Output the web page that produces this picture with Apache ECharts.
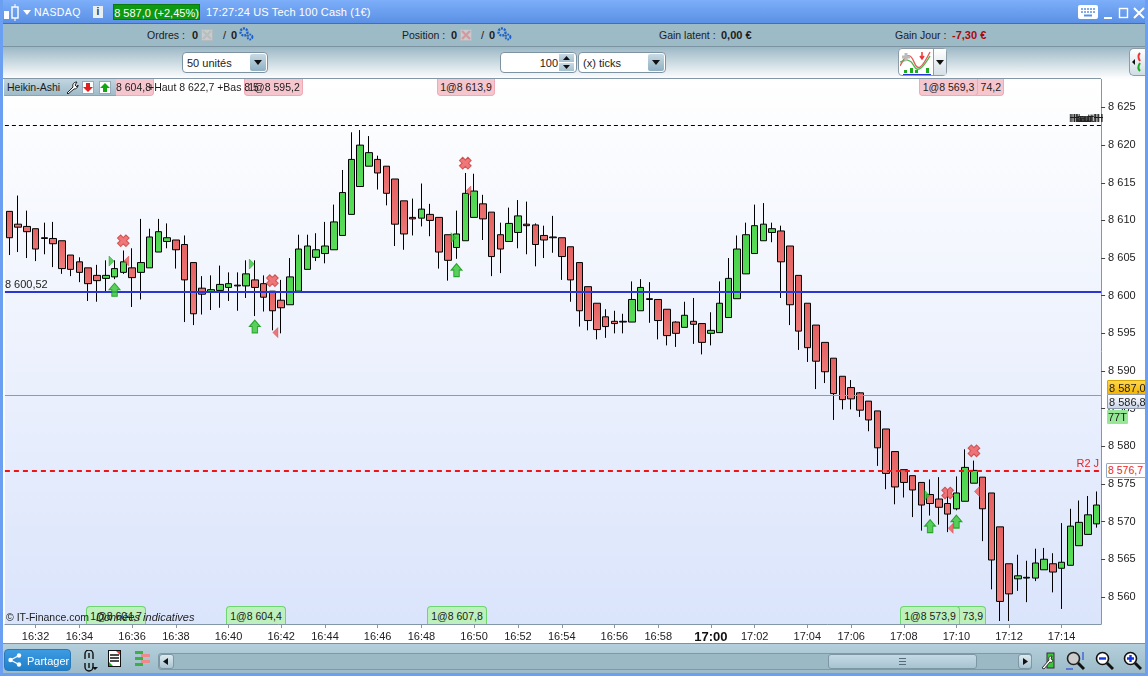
<!DOCTYPE html>
<html><head><meta charset="utf-8">
<script src="https://cdn.jsdelivr.net/npm/echarts@6/dist/echarts.min.js"></script>
<style>
html,body{margin:0;padding:0;background:#fff;overflow:hidden}
#chart{position:absolute;left:0;top:0;width:1148px;height:676px}
#ui{position:absolute;left:0;top:0;width:1148px;height:676px;pointer-events:none;font:11px "Liberation Sans",Arial,sans-serif;color:#1c1c1c}
#ui div,#ui svg{position:absolute;box-sizing:border-box;white-space:nowrap}
</style></head><body>
<div id="chart"></div><div id="ui"></div>
<script>
// Heikin-Ashi candles: [open, close, low, high]
const candles=[
[8611.2,8607.7,8605.4,8611.2],[8609.5,8609.1,8605.8,8613.3],[8609.2,8608.5,8605.0,8611.3],[8608.9,8606.2,8604.6,8608.9],[8607.7,8607.6,8605.5,8609.7],
[8607.6,8606.9,8603.8,8609.8],[8607.3,8603.6,8602.9,8607.3],[8605.4,8603.5,8602.6,8605.4],[8604.5,8603.1,8601.8,8605.1],[8603.7,8601.6,8599.3,8603.7],
[8602.7,8602.0,8599.2,8604.1],[8602.3,8602.7,8600.5,8604.7],[8602.5,8603.6,8602.2,8604.7],[8603.1,8604.5,8602.9,8606.0],[8603.7,8602.4,8598.5,8606.3],
[8603.1,8604.4,8599.5,8610.2],[8603.7,8607.8,8603.7,8608.9],[8605.8,8608.5,8605.8,8610.2],[8607.2,8607.7,8606.3,8609.6],[8607.4,8606.1,8603.6,8607.4],
[8606.8,8602.1,8596.5,8608.0],[8604.4,8597.6,8596.1,8604.4],[8601.0,8600.2,8597.5,8602.6],[8600.5,8600.8,8598.1,8602.7],[8600.7,8601.5,8598.4,8604.0],
[8601.1,8601.6,8599.3,8603.1],[8601.4,8601.3,8598.0,8603.1],[8601.3,8602.9,8599.7,8604.7],[8602.1,8601.1,8597.3,8604.7],[8601.6,8599.8,8597.9,8602.7],
[8600.6,8598.0,8595.4,8600.6],[8599.4,8598.4,8595.0,8602.1],[8598.8,8602.5,8598.8,8605.0],[8600.6,8606.2,8600.6,8608.1],[8603.5,8606.6,8603.5,8608.1],
[8605.1,8606.1,8604.6,8608.3],[8605.6,8606.6,8604.3,8609.8],[8606.1,8609.8,8606.1,8612.1],[8608.0,8613.7,8608.0,8616.7],[8610.8,8618.1,8610.8,8621.7],
[8614.5,8620.0,8614.5,8622.0],[8617.2,8619.0,8617.2,8621.2],[8618.1,8616.3,8614.1,8618.6],[8617.2,8613.6,8612.0,8617.2],[8615.5,8609.5,8606.6,8615.5],
[8612.6,8608.2,8606.1,8612.6],[8610.4,8610.2,8608.0,8612.9],[8610.3,8611.5,8609.2,8614.9],[8610.8,8610.0,8607.9,8612.2],[8610.4,8605.8,8603.6,8610.4],
[8608.1,8604.7,8602.0,8608.1],[8606.4,8608.2,8604.9,8611.3],[8607.3,8613.6,8607.3,8616.3],[8610.4,8613.9,8610.4,8616.2],[8612.2,8610.2,8607.4,8613.4],
[8611.1,8605.2,8602.6,8611.1],[8608.1,8606.2,8603.0,8609.7],[8607.2,8609.6,8607.2,8611.7],[8608.4,8610.6,8606.3,8612.7],[8609.5,8609.3,8605.5,8612.5],
[8609.4,8606.8,8603.9,8609.6],[8608.0,8607.4,8605.0,8609.3],[8607.8,8607.7,8605.7,8610.6],[8607.7,8605.2,8602.1,8607.7],[8606.5,8602.1,8599.2,8606.5],
[8604.4,8598.0,8595.9,8604.4],[8601.2,8596.7,8595.4,8601.2],[8599.0,8595.5,8594.2,8599.0],[8597.2,8595.9,8594.4,8598.2],[8596.6,8596.3,8595.0,8598.0],
[8596.6,8596.5,8595.0,8597.6],[8596.5,8599.5,8596.5,8601.9],[8598.0,8601.1,8598.0,8602.2],[8599.6,8599.5,8596.4,8601.8],[8599.5,8596.7,8594.2,8599.5],
[8598.2,8594.7,8593.4,8598.2],[8596.5,8595.0,8593.2,8596.6],[8595.8,8597.4,8595.8,8599.2],[8596.6,8596.2,8593.6,8599.7],[8596.3,8593.8,8592.2,8596.3],
[8595.0,8595.4,8593.4,8597.8],[8595.1,8599.0,8595.1,8601.9],[8597.1,8602.3,8597.1,8605.0],[8599.6,8606.2,8599.6,8608.0],[8602.9,8608.1,8602.9,8609.7],
[8605.6,8609.3,8605.6,8612.1],[8607.3,8609.5,8607.3,8612.3],[8608.4,8608.9,8607.1,8609.7],[8608.6,8604.5,8599.7,8609.3],[8606.6,8598.8,8596.1,8606.6],
[8602.7,8595.3,8592.8,8602.7],[8599.0,8593.1,8591.2,8599.0],[8596.1,8591.3,8587.6,8596.1],[8593.8,8589.9,8588.4,8593.8],[8591.7,8587.0,8583.5,8591.7],
[8589.3,8586.2,8584.9,8589.3],[8587.8,8586.3,8584.9,8588.8],[8587.1,8584.8,8583.9,8587.2],[8586.0,8583.5,8582.0,8586.0],[8584.7,8579.8,8577.4,8584.7],
[8582.3,8576.4,8574.3,8582.3],[8579.3,8574.6,8572.3,8579.3],[8576.9,8575.2,8573.2,8576.9],[8576.1,8574.2,8570.6,8576.1],[8575.2,8572.2,8568.8,8575.2],
[8573.6,8572.4,8570.8,8575.6],[8573.0,8571.9,8569.6,8575.9],[8572.4,8571.0,8568.6,8574.2],[8571.7,8573.8,8571.5,8576.0],[8572.7,8577.2,8572.7,8579.6],
[8575.1,8576.8,8575.1,8578.1],[8575.9,8571.7,8567.4,8575.9],[8573.8,8564.9,8561.0,8573.8],[8569.3,8559.4,8556.8,8569.3],[8564.4,8560.4,8556.8,8564.4],
[8562.4,8562.8,8560.8,8565.6],[8562.6,8562.5,8559.3,8564.8],[8562.5,8564.5,8562.1,8566.4],[8563.6,8565.0,8563.6,8566.5],[8564.4,8563.3,8560.6,8565.8],
[8563.8,8564.6,8558.4,8569.8],[8564.2,8569.4,8564.2,8571.7],[8566.8,8569.9,8566.8,8572.8],[8568.3,8570.9,8568.3,8573.4],[8569.7,8572.2,8569.2,8574.0]];

const timeTickCandles=[3,8,14,19,25,31,36,42,47,53,58,63,69,74,80,85,91,96,102,108,114,120];
const timeTickLabels=['16:32','16:34','16:36','16:38','16:40','16:42','16:44','16:46','16:48','16:50','16:52','16:54','16:56','16:58','17:00','17:02','17:04','17:06','17:08','17:10','17:12','17:14'];
const priceTicks=[8560,8565,8570,8575,8580,8585,8590,8595,8600,8605,8610,8615,8620,8625];

const bluePrice=8600.52, lastPrice=8586.8, r2Price=8576.7, highPrice=8622.7;
// [candle index, price]
const crossMarks=[[13,8607.3],[30,8602.0],[52,8617.6],[107,8573.8],[110,8579.4]];
const buyArrows=[[12,8600.8],[28,8595.9],[51,8603.4],[105,8569.4],[108,8570.0]];
const greenFlags=[[12,8604.6],[28,8604.2],[51,8607.7],[105,8573.5]];
const redFlags=[[13,8604.6],[30,8595.1],[52,8613.9],[107,8569.1],[110,8574.0]];

const categories=candles.map(()=>'');
timeTickCandles.forEach((c,i)=>{categories[c]=timeTickLabels[i]});
const isTick=(i,v)=>categories[i]!=='';
const fmtPrice=v=>String(v).replace(/^(\d)(\d{3})/,'$1 $2');

const chart=echarts.init(document.getElementById('chart'),null,{renderer:'canvas'});
const FONT='"Liberation Sans",Arial,sans-serif';
chart.setOption({
 animation:false,
 grid:{left:4.9,top:79,width:1096.2,height:545,show:true,borderWidth:0,
  backgroundColor:{type:'linear',x:0,y:0,x2:0,y2:1,colorStops:[{offset:0,color:'#FFFFFF'},{offset:1,color:'#DAE4FB'}]}},
 xAxis:{type:'category',data:categories,boundaryGap:true,
  axisLine:{lineStyle:{color:'#8497A6',width:1}},
  axisTick:{show:true,alignWithLabel:true,interval:isTick,length:4,lineStyle:{color:'#8497A6'}},
  axisLabel:{show:true,interval:isTick,margin:7,hideOverlap:false,fontFamily:FONT,fontSize:11,color:'#222',
   formatter:v=>v==='17:00'?'{b|'+v+'}':v,rich:{b:{fontWeight:'bold',fontSize:13,fontFamily:FONT,color:'#111'}}},
  splitLine:{show:false}},
 yAxis:{type:'value',position:'right',min:8556.4,max:8628.78,scale:true,
  axisLine:{show:true,lineStyle:{color:'#8497A6',width:1}},
  axisTick:{show:true,customValues:priceTicks,length:4,lineStyle:{color:'#444'}},
  axisLabel:{customValues:priceTicks,margin:7,fontFamily:FONT,fontSize:11,color:'#222',formatter:fmtPrice},
  splitLine:{show:false}},
 series:[
  {type:'candlestick',data:candles,barWidth:7,z:3,
   itemStyle:{
    color:{type:'linear',x:0,y:0,x2:0,y2:1,colorStops:[{offset:0,color:'#45CC45'},{offset:1,color:'#5ADE5A'}]},
    color0:{type:'linear',x:0,y:0,x2:0,y2:1,colorStops:[{offset:0,color:'#E46060'},{offset:1,color:'#F18484'}]},
    borderColor:'#000',borderColor0:'#000',borderWidth:1},
   markLine:{silent:true,symbol:'none',animation:false,z:5,precision:2,
    data:[
     {yAxis:highPrice,lineStyle:{color:'#000',type:[4,3],width:1},label:{show:false}},
     {yAxis:bluePrice,lineStyle:{color:'#2A35D4',type:'solid',width:2},
      label:{show:true,position:'insideStartTop',formatter:'8 600,52',color:'#222',fontSize:11,fontFamily:FONT,distance:[0,1]}},
     {yAxis:lastPrice,lineStyle:{color:'#999',type:'solid',width:1},label:{show:false}},
     {yAxis:r2Price,lineStyle:{color:'#F01414',type:[5,4],width:2},
      label:{show:true,position:'insideEndTop',formatter:'R2 J',color:'#F02020',fontSize:11,fontFamily:FONT,distance:[2,2]}}
    ]}},
  {type:'scatter',name:'cross',data:crossMarks,z:6,silent:true,
   symbol:'path://M3.7 0H8.3V3.7H12V8.3H8.3V12H3.7V8.3H0V3.7H3.7Z',symbolRotate:45,symbolSize:12,
   itemStyle:{color:'#EE5656',borderColor:'#C83C3C',borderWidth:1}},
  {type:'scatter',name:'arrows',data:buyArrows,z:6,silent:true,
   symbol:'path://M5 0L10 6H7.5V12H2.5V6H0Z',symbolSize:[11,13],
   itemStyle:{color:'#35C635',borderColor:'#0A950A',borderWidth:1}},
  {type:'scatter',name:'gflags',data:greenFlags,z:6,silent:true,
   symbol:'triangle',symbolSize:[10,5],symbolRotate:-90,symbolOffset:[-3,0],
   itemStyle:{color:'#35C635',borderColor:'#0A950A',borderWidth:.5}},
  {type:'scatter',name:'rflags',data:redFlags,z:6,silent:true,
   symbol:'triangle',symbolSize:[10,5],symbolRotate:90,symbolOffset:[3,0],
   itemStyle:{color:'#EE5656',borderColor:'#C83C3C',borderWidth:.5}}
 ]
});

// ---- platform window chrome around the chart ----
const ui=document.getElementById('ui');
function box(x,y,w,h,css,text){const d=document.createElement('div');
 d.style.cssText=`left:${x}px;top:${y}px;width:${w}px;height:${h}px;line-height:${h}px;`+(css||'');
 if(text!==undefined)d.innerHTML=text;ui.appendChild(d);return d}
function svg(x,y,w,h,inner){const t=document.createElement('div');
 t.style.cssText=`left:${x}px;top:${y}px;width:${w}px;height:${h}px`;
 t.innerHTML=`<svg xmlns="http://www.w3.org/2000/svg" width="${w}" height="${h}" viewBox="0 0 ${w} ${h}" style="left:0;top:0">${inner}</svg>`;ui.appendChild(t)}
const gear=(x,y)=>svg(x,y,16,14,'<circle cx="6" cy="5" r="3.5" fill="none" stroke="#1D62C8" stroke-width="2.4" stroke-dasharray="2 1"/><circle cx="12" cy="10" r="2.4" fill="none" stroke="#1D62C8" stroke-width="2" stroke-dasharray="1.6 .8"/>');
const xbtn=(x,y,c)=>{box(x,y,12,12,'background:#C8CCCE;border:1px solid #B4BABD');svg(x+1,y+1,10,10,`<path d="M1 1L9 9M9 1L1 9" stroke="${c}" stroke-width="2.4"/>`)};
const ddArrow=(x,y)=>svg(x,y,8,5,'<path d="M0 0H8L4 5Z" fill="#111"/>');
function select(x,w,text){box(x,52,w,21,'background:#fff;border:1px solid #7E93A2;border-radius:4px;padding-left:4px;font-size:11px',text);
 box(x+w-18,54,16,17,'background:linear-gradient(#C8DAE4,#8FB0C2);border-radius:2px');ddArrow(x+w-14,60)}

// window frame
box(0,0,1148,23,'background:linear-gradient(#7CAEF9,#5B90E4)');
box(0,23,1148,1,'background:#3E6FB8');
box(0,24,1148,22,'background:#9DBAC7');
box(0,46,1148,1,'background:#7C94A2');
box(0,47,1148,32,'background:linear-gradient(#9CB8C6,#ffffff)');
box(0,78,1101,1,'background:#8497A6');
box(0,0,3,676,'background:#6A9FF2');box(1145,0,3,676,'background:#6A9FF2');
box(0,673,1148,3,'background:#6A9FF2');
box(3,643,1142,30,'background:linear-gradient(#B5D0DC,#9CBAC8);border-top:1px solid #7C94A2');

// title row
svg(3,4,17,17,'<rect x="1" y="7" width="5" height="8" fill="#fff"/><rect x="9" y="3" width="6" height="11" fill="none" stroke="#fff" stroke-width="1.4"/><path d="M12 0V3M12 14V17" stroke="#fff"/>');
svg(23,10,8,5,'<path d="M0 0H8L4 5Z" fill="#fff"/>');
box(34,3,60,18,'color:#fff;font-size:10.5px;letter-spacing:.4px','NASDAQ');
box(93,6,10,12,'background:#E8EEF4;color:#333;font-weight:bold;text-align:center;font-size:10px','i');
box(113,4,87,16,'background:#0D9A12;border:1px solid #0A7A0E;color:#fff;font-size:11px;text-align:center','8 587,0 (+2,45%)');
box(206,3,180,18,'color:#fff;font-size:11px;letter-spacing:.15px','17:27:24 US Tech 100 Cash (1€)');
svg(1078,5,21,15,'<rect width="20" height="14" rx="2" fill="#fff"/><path d="M3 4H17M3 7H17" stroke="#5B90E4" stroke-width="1.6" stroke-dasharray="2 1"/><path d="M6 10.5H14" stroke="#5B90E4" stroke-width="2"/>');
svg(1104,6,44,14,'<path d="M0 12H8" stroke="#fff" stroke-width="2"/><rect x="15.5" y="2.5" width="8" height="9" fill="none" stroke="#fff" stroke-width="1.4"/><path d="M30 2L40 12M40 2L30 12" stroke="#fff" stroke-width="2"/>');

// status row
box(147,25,44,20,'font-size:10.5px','Ordres :');
box(192,25,8,20,'font-weight:bold','0');xbtn(201,29,'#B9BEC0');
box(223,25,6,20,'','/');box(231,25,8,20,'font-weight:bold','0');gear(238,27);
box(402,25,48,20,'font-size:10.5px','Position :');
box(451,25,8,20,'font-weight:bold','0');xbtn(460,29,'#D39AA2');
box(481,25,6,20,'','/');box(489,25,8,20,'font-weight:bold','0');gear(496,27);
box(659,25,62,20,'font-size:10.5px','Gain latent :');
box(721,25,40,20,'font-weight:bold','0,00 €');
box(895,25,56,20,'font-size:10.5px','Gain Jour :');
box(952,25,40,20,'font-weight:bold;color:#A80A0A','-7,30 €');

// selector row
select(182,86,'50 unités');
box(500,52,77,21,'background:#fff;border:1px solid #7E93A2;border-radius:4px;text-align:right;padding-right:18px;font-size:11px','100');
box(559,54,15,8,'background:linear-gradient(#C8DAE4,#A3C0CE)');box(559,63,15,8,'background:linear-gradient(#C8DAE4,#A3C0CE)');
svg(563,56,7,13,'<path d="M0 4L3.5 0L7 4Z M0 9L3.5 13L7 9Z" fill="#111"/>');
select(578,88,'(x) ticks');
box(898,48,49,28,'background:#fff;border:1px solid #8C9DA8;border-radius:4px');
box(933,49,13,26,'background:linear-gradient(#fff,#D5E0E6);border-left:1px solid #8C9DA8');ddArrow(936,60);
svg(900,50,33,25,'<path d="M0 16C6 4 10 2 14 12S22 18 30 2" fill="none" stroke="#E06060" stroke-width="1.4"/><path d="M0 12C6 10 10 8 14 16S24 16 30 6" fill="none" stroke="#4AB84A" stroke-width="1.4"/><path d="M2 7H10M6 3V11" stroke="#bbb" stroke-width="3"/><path d="M22 2V8M20 6L22 9L24 6" stroke="#E33" stroke-width="1.5" fill="none"/><path d="M10 23V18H13V23ZM15 23V20H18V23ZM4 23V20H7V23ZM26 23V18H29V23Z" fill="#1EAA1E"/><path d="M3 24.5H31" stroke="#2A35D4"/>');
box(1129,48,16,28,'background:linear-gradient(#fff,#CFDDE5);border:1px solid #8C9DA8;border-right:0;border-radius:5px 0 0 5px');
svg(1131,52,13,20,'<path d="M1 10L4 7V13Z" fill="#111"/><path d="M9 1C7 3 7 6 9 9" stroke="#E33" stroke-width="2" fill="none"/><path d="M9 19C7 17 7 14 9 11" stroke="#1EAA1E" stroke-width="2" fill="none"/>');

// order tags at the top and the bottom of the plot
const pink='background:#F6C6CE;border:1px solid #F0AAB6;border-top:0;border-radius:0 0 4px 4px;text-align:center;font-size:10.5px';
const green='background:#BDF0BD;border:1px solid #6FD66F;border-bottom:0;border-radius:4px 4px 0 0;text-align:center;font-size:10.5px';
box(95,79,59,17,pink);
box(244,79,59,17,pink);
box(116,79,36,17,'font-size:10.5px','8 604,8');
box(148,79,110,17,'font-size:10.5px','+Haut 8 622,7 +Bas 8 5');
box(245,79,58,17,'font-size:10.5px;text-align:center','1@8 595,2');
box(437,79,58,17,pink,'1@8 613,9');
box(945,79,59,17,pink+';text-align:right;padding-right:2px','74,2');
box(919,79,59,17,pink,'1@8 569,3');
box(86,606,60,18,green,'1@8 604,7');
box(226,606,60,18,green,'1@8 604,4');
box(427,606,60,18,green,'1@8 607,8');
box(930,606,56,18,green+';text-align:right;padding-right:2px','73,9');
box(900,606,60,18,green,'1@8 573,9');
box(6,609,92,16,'font-size:10.5px','© IT-Finance.com');
box(96,609,104,16,'font-style:italic;font-size:11px','Données indicatives');

// indicator tab
box(4,79,112,17,'background:linear-gradient(#C2D6E0,#9FBBC9);border-bottom:1px solid #8CA4B2;padding-left:3px;font-size:10.5px','Heikin-Ashi');
svg(65,81,14,14,'<path d="M2 12L8 6C7 3 9 1 12 1L10 4L12 6L13 4C13 7 11 8 9 8L3 13Z" fill="#fff" stroke="#222"/>');
box(82,81,12,13,'background:#fff;border:1px solid #9AB');svg(83,83,10,9,'<path d="M3 0H7V4H10L5 9L0 4H3Z" fill="#E02020"/>');
box(99,81,12,13,'background:#fff;border:1px solid #9AB');svg(100,83,10,9,'<path d="M3 9H7V5H10L5 0L0 5H3Z" fill="#12A812"/>');

// overlapping high labels
[0,1,2,3].forEach(i=>box(1069+i*1.4,113,30,11,'font-size:10px;overflow:hidden','Haut H'));

// price tags
const tagCss='border-radius:1px;padding-left:1px;font-size:11px;';
box(1107,380,39,15,tagCss+'background:linear-gradient(#FFD64E,#F4B400);border:1px solid #D8A600','8 587,0');
box(1107,394,39,15,tagCss+'background:linear-gradient(#fff,#CBD6EA);border:1px solid #8E9AAC','8 586,8');
box(1107,410,21,14,tagCss+'background:#96E896','77T');
box(1106,463,40,15,'border-radius:1px;font-size:10.5px;background:#fff;border:1px solid #93A8C8;color:#E52A2A;line-height:13px;padding-left:1px','8 576,7');

// bottom bar
box(4,649,67,22,'background:linear-gradient(#3D9BE2,#1F7FC9);border:1px solid #2A78B8;border-radius:4px;color:#fff;font-size:11px;padding-left:22px','Partager');
svg(8,653,14,14,'<circle cx="2.5" cy="7" r="2.2" fill="#fff"/><circle cx="11" cy="2.5" r="2.2" fill="#fff"/><circle cx="11" cy="11.5" r="2.2" fill="#fff"/><path d="M2.5 7L11 2.5M2.5 7L11 11.5" stroke="#fff" stroke-width="1.2"/>');
svg(82,650,16,22,'<path d="M3 9V4A3 3 0 0 1 11 4V9M3 13V17A3 3 0 0 0 11 17V13M7 3V8M7 13V18" fill="none" stroke="#111" stroke-width="1.4"/><path d="M10 17H16L13 20Z" fill="#111"/>');
svg(108,650,13,17,'<rect x=".5" y=".5" width="12" height="16" fill="#fff" stroke="#111"/><path d="M2 5H11M2 8H11M2 11H11" stroke="#111" stroke-width="1.5"/><path d="M8 1H12V5Z" fill="#E33"/><path d="M1 16V12L5 16Z" fill="#1A1"/>');
svg(135,650,16,18,'<path d="M0 1H8V4H0ZM0 7H8V10H0ZM0 13H8V16H0Z" fill="#3CB043"/><path d="M6 4H15V7H6ZM6 10H15V13H6Z" fill="#EE8A8A"/>');
box(158,653,874,17,'background:#9BB8C5;border:1px solid #8199A6;border-radius:3px');
box(159,654,15,15,'background:linear-gradient(#DDE9EF,#A9C4D1);border:1px solid #7F97A5;border-radius:3px');
svg(163,658,5,7,'<path d="M5 0V7L0 3.5Z" fill="#111"/>');
box(1018,654,14,15,'background:linear-gradient(#DDE9EF,#A9C4D1);border:1px solid #7F97A5;border-radius:3px');
svg(1023,658,5,7,'<path d="M0 0V7L5 3.5Z" fill="#111"/>');
box(828,654,149,15,'background:linear-gradient(#C4DAE5,#A7C3D1);border:1px solid #7F97A5;border-radius:3px');
svg(899,658,7,7,'<path d="M0 .5H7M0 3.5H7M0 6.5H7" stroke="#5A6C78"/>');
svg(1041,651,15,20,'<rect x="6" y="2" width="7" height="15" fill="#3CC43C" stroke="#333"/><path d="M1 17L8 9C7 6 9 5 11 5L10 8L12 9C12 11 10 12 9 11L3 18Z" fill="#fff" stroke="#333"/>');
const mag=(x,c,g)=>svg(x,651,19,20,`<circle cx="7.5" cy="7.5" r="6" fill="#fff" stroke="#111" stroke-width="1.6"/>${g}<path d="M12 12L18 18" stroke="#111" stroke-width="3"/>`);
svg(1066,651,19,20,'<circle cx="7.5" cy="7.5" r="6" fill="#ccc" stroke="#222" stroke-width="1.6"/><path d="M12 12L18 18" stroke="#111" stroke-width="3"/><path d="M17 1V9M0 18H7" stroke="#1238E0"/>');
mag(1095,0,'<path d="M4 7.5H11" stroke="#1238E0" stroke-width="2.4"/>');
mag(1123,0,'<path d="M4 7.5H11M7.5 4V11" stroke="#1238E0" stroke-width="2.4"/>');
</script>
</body></html>
